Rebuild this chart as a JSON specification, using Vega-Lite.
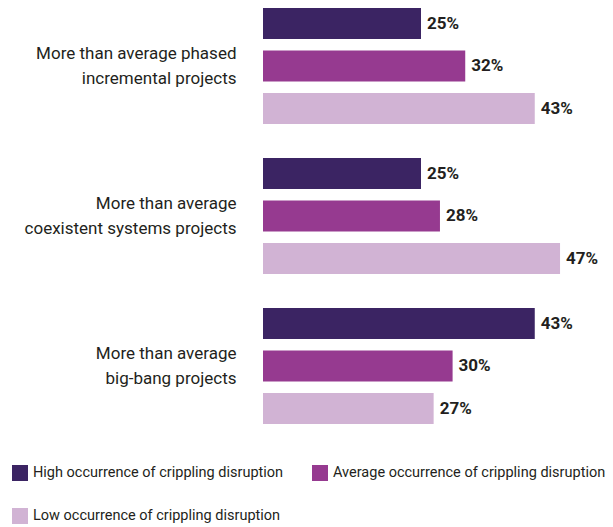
{
  "$schema": "https://vega.github.io/schema/vega-lite/v6.json",
  "width": 316,
  "height": 432,
  "autosize": {"type": "none"},
  "padding": {"left": 263, "top": 0, "right": 34, "bottom": 95},
  "background": "white",
  "config": {
    "view": {"stroke": null},
    "font": "Roboto, sans-serif"
  },
  "data": {
    "values": [
      {"project": "More than average phased|incremental projects", "occurrence": "High occurrence of crippling disruption", "value": 25},
      {"project": "More than average phased|incremental projects", "occurrence": "Average occurrence of crippling disruption", "value": 32},
      {"project": "More than average phased|incremental projects", "occurrence": "Low occurrence of crippling disruption", "value": 43},
      {"project": "More than average|coexistent systems projects", "occurrence": "High occurrence of crippling disruption", "value": 25},
      {"project": "More than average|coexistent systems projects", "occurrence": "Average occurrence of crippling disruption", "value": 28},
      {"project": "More than average|coexistent systems projects", "occurrence": "Low occurrence of crippling disruption", "value": 47},
      {"project": "More than average|big-bang projects", "occurrence": "High occurrence of crippling disruption", "value": 43},
      {"project": "More than average|big-bang projects", "occurrence": "Average occurrence of crippling disruption", "value": 30},
      {"project": "More than average|big-bang projects", "occurrence": "Low occurrence of crippling disruption", "value": 27}
    ]
  },
  "encoding": {
    "y": {
      "field": "project", "type": "nominal", "sort": null,
      "scale": {"paddingInner": 0.15, "paddingOuter": 0.015},
      "axis": {
        "title": null, "domain": false, "ticks": false,
        "labelExpr": "split(datum.label, '|')",
        "labelFontSize": 17, "labelColor": "#231f20",
        "labelPadding": 27, "labelLineHeight": 25, "labelLimit": 300,
        "labelOffset": -12
      }
    },
    "yOffset": {
      "field": "occurrence", "type": "nominal", "sort": null,
      "scale": {"paddingInner": 0.27, "paddingOuter": 0.135}
    },
    "x": {
      "field": "value", "type": "quantitative",
      "scale": {"domain": [0, 50]},
      "axis": null
    }
  },
  "layer": [
    {
      "mark": {"type": "bar"},
      "encoding": {
        "color": {
          "field": "occurrence", "type": "nominal", "sort": null,
          "scale": {
            "domain": ["High occurrence of crippling disruption", "Average occurrence of crippling disruption", "Low occurrence of crippling disruption"],
            "range": ["#3b2463", "#963a90", "#d1b3d4"]
          },
          "legend": {
            "title": null, "orient": "none", "legendX": -251, "legendY": 465,
            "direction": "horizontal", "columns": 2, "symbolType": "square", "symbolSize": 256,
            "symbolStrokeWidth": 0, "labelFontSize": 14.5, "labelColor": "#231f20",
            "labelLimit": 400, "rowPadding": 27, "columnPadding": 28, "labelOffset": 5
          }
        }
      }
    },
    {
      "mark": {"type": "text", "align": "left", "baseline": "middle", "dx": 6, "fontSize": 17, "fontWeight": "bold", "color": "#231f20", "text": {"expr": "datum.value + '%'"}},
      "encoding": {
        "detail": {"field": "occurrence"}
      }
    }
  ]
}
